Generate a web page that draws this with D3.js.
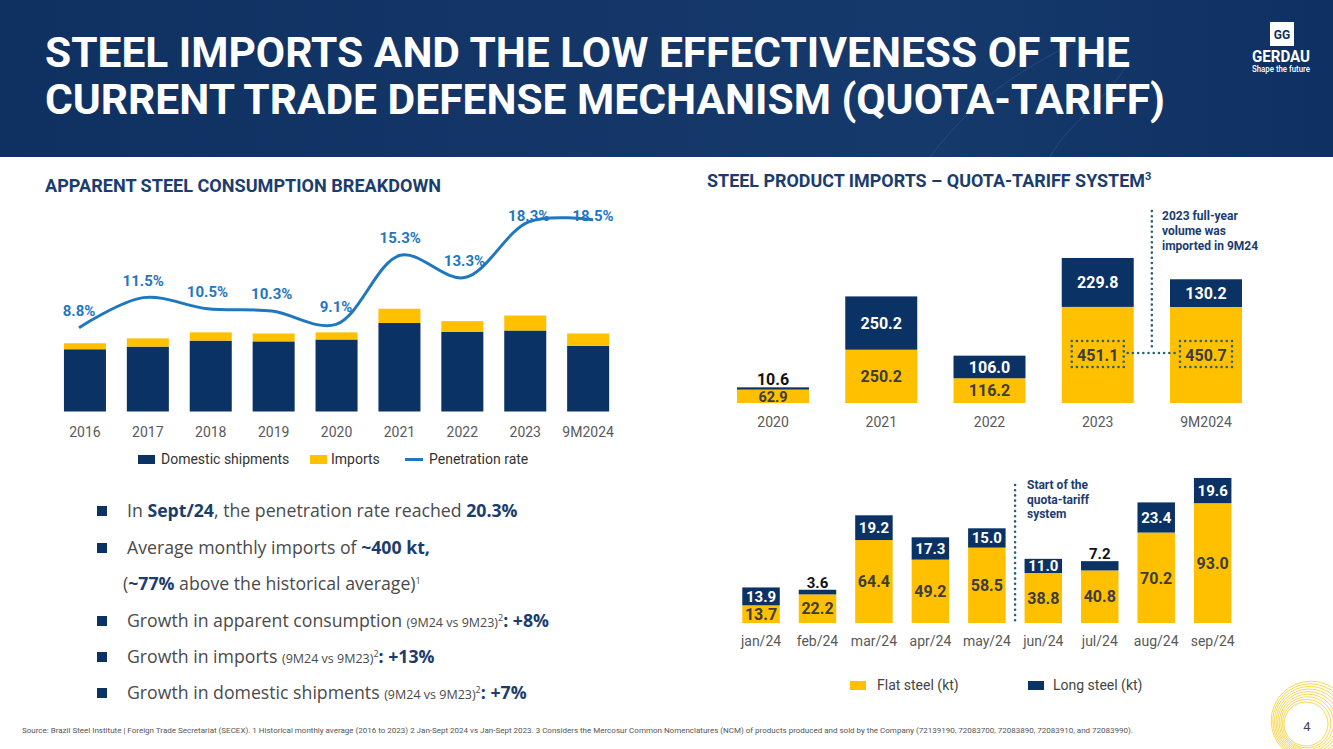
<!DOCTYPE html>
<html><head><meta charset="utf-8">
<script src="https://cdn.jsdelivr.net/npm/d3@7"></script>
<style>
html,body{margin:0;padding:0;background:#fff;}
svg{display:block;font-family:Roboto, "Noto Sans", sans-serif;}
</style></head>
<body>
<svg id="c" width="1333" height="749"></svg>
<script>
// ---------- DATA ----------
const consYears = ["2016","2017","2018","2019","2020","2021","2022","2023","9M2024"];
const domestic = [16.6,17.3,18.9,18.7,19.2,23.6,21.2,21.6,17.5];   // Mt (estimated)
const imports  = [1.6,2.2,2.2,2.1,1.9,3.8,2.9,4.0,3.3];            // Mt (estimated)
const penetration = [8.8,11.5,10.5,10.3,9.1,15.3,13.3,18.3,18.5];  // %

const importYears = ["2020","2021","2022","2023","9M2024"];
const flatAnnual = [62.9,250.2,116.2,451.1,450.7];
const longAnnual = [10.6,250.2,106.0,229.8,130.2];

const months = ["jan/24","feb/24","mar/24","apr/24","may/24","jun/24","jul/24","aug/24","sep/24"];
const flatMonthly = [13.7,22.2,64.4,49.2,58.5,38.8,40.8,70.2,93.0];
const longMonthly = [13.9,3.6,19.2,17.3,15.0,11.0,7.2,23.4,19.6];

// ---------- STYLE ----------
const NAVY = "#0b3264", YELLOW = "#ffc000", BLUE = "#1f77c0", HEAD = "#1b3d6e",
      GRAY = "#595959", DOT = "#2d5f73", TXT = "#4a4a4a";

const svg = d3.select("#c");

// ---------- HEADER ----------
const defs = svg.append("defs");
const g1 = defs.append("linearGradient").attr("id","hg").attr("x1","0").attr("x2","1");
g1.append("stop").attr("offset","0").attr("stop-color","#0f3162");
g1.append("stop").attr("offset","0.7").attr("stop-color","#16396b");
g1.append("stop").attr("offset","1").attr("stop-color","#0e3062");
svg.append("rect").attr("x",0).attr("y",0).attr("width",1333).attr("height",157).attr("fill","url(#hg)");
svg.append("path").attr("d","M930,157 C980,90 1040,60 1080,40 M1050,157 C1070,120 1100,110 1130,60")
  .attr("fill","none").attr("stroke","#3a5d8c").attr("stroke-width",1).attr("opacity",0.5);

svg.append("text").attr("x",45).attr("y",67).attr("fill","#fff").attr("font-size",42).attr("font-weight",700)
  .attr("textLength",1085).attr("lengthAdjust","spacingAndGlyphs")
  .text("STEEL IMPORTS AND THE LOW EFFECTIVENESS OF THE");
svg.append("text").attr("x",45).attr("y",114).attr("fill","#fff").attr("font-size",42).attr("font-weight",700)
  .attr("textLength",1120).attr("lengthAdjust","spacingAndGlyphs")
  .text("CURRENT TRADE DEFENSE MECHANISM (QUOTA-TARIFF)");

// logo
svg.append("rect").attr("x",1270).attr("y",22).attr("width",24).attr("height",24).attr("fill","#fff");
svg.append("text").attr("x",1282).attr("y",39).attr("text-anchor","middle").attr("fill",NAVY)
  .attr("font-size",12).attr("font-weight",700).text("GG");
svg.append("text").attr("x",1281).attr("y",62).attr("text-anchor","middle").attr("fill","#fff")
  .attr("font-size",16).attr("font-weight",700).attr("textLength",58).attr("lengthAdjust","spacingAndGlyphs").text("GERDAU");
svg.append("text").attr("x",1281).attr("y",72).attr("text-anchor","middle").attr("fill","#fff")
  .attr("font-size",8.5).attr("font-weight",500).attr("textLength",58).attr("lengthAdjust","spacingAndGlyphs").text("Shape the future");

// ---------- LEFT CHART ----------
svg.append("text").attr("x",45).attr("y",192).attr("fill",HEAD).attr("font-size",18).attr("font-weight",700)
  .attr("textLength",396).attr("lengthAdjust","spacingAndGlyphs").text("APPARENT STEEL CONSUMPTION BREAKDOWN");

const xL = d3.scaleBand().domain(consYears).range([53.5,619.6]).paddingInner(0.332).paddingOuter(0.166);
const yL = d3.scaleLinear().domain([0,60]).range([411.5,186.5]);
const gL = svg.append("g");
gL.selectAll(".dom").data(consYears).join("rect")
  .attr("x",d=>xL(d)).attr("width",xL.bandwidth())
  .attr("y",(d,i)=>yL(domestic[i])).attr("height",(d,i)=>yL(0)-yL(domestic[i])).attr("fill",NAVY);
gL.selectAll(".imp").data(consYears).join("rect")
  .attr("x",d=>xL(d)).attr("width",xL.bandwidth())
  .attr("y",(d,i)=>yL(domestic[i]+imports[i])).attr("height",(d,i)=>yL(domestic[i])-yL(domestic[i]+imports[i])).attr("fill",YELLOW);

const axL = svg.append("g").attr("transform","translate(0,424)")
  .call(d3.axisBottom(xL).tickSize(0).tickPadding(0));
axL.select(".domain").remove();
axL.selectAll("text").attr("font-size",14).attr("fill",GRAY).attr("font-family","Roboto").attr("dy","0.9em");

const xP = d3.scalePoint().domain(consYears).range([79,593]);
const yP = d3.scaleLinear().domain([5,20]).range([370,203]);
const line = d3.line().x((d,i)=>xP(consYears[i])).y(d=>yP(d)).curve(d3.curveCatmullRom.alpha(0.5));
svg.append("path").attr("d",line(penetration)).attr("fill","none").attr("stroke",BLUE).attr("stroke-width",3);
svg.selectAll(".pl").data(penetration).join("text")
  .attr("x",(d,i)=>xP(consYears[i])).attr("y",d=>Math.max(yP(d)-12, 221))
  .attr("text-anchor","middle").attr("font-size",15).attr("font-weight",700).attr("fill",BLUE)
  .text(d=>d3.format(".1f")(d)+"%");

// legend left
const lgL = svg.append("g");
lgL.append("rect").attr("x",138).attr("y",455).attr("width",17).attr("height",9).attr("fill",NAVY);
lgL.append("text").attr("x",161).attr("y",464).attr("font-size",14).attr("fill","#333").text("Domestic shipments");
lgL.append("rect").attr("x",310).attr("y",455).attr("width",17).attr("height",9).attr("fill",YELLOW);
lgL.append("text").attr("x",331).attr("y",464).attr("font-size",14).attr("fill","#333").text("Imports");
lgL.append("line").attr("x1",405).attr("x2",423).attr("y1",459.5).attr("y2",459.5).attr("stroke",BLUE).attr("stroke-width",3);
lgL.append("text").attr("x",429).attr("y",464).attr("font-size",14).attr("fill","#333").text("Penetration rate");

// ---------- BULLETS ----------
const bullets = [
  {y:517, sq:true, parts:[["In ",0],["Sept/24",1],[", the penetration rate reached ",0],["20.3%",1]]},
  {y:554, sq:true, parts:[["Average monthly imports of ",0],["~400 kt",1],[",",1]]},
  {y:590, sq:false, x:123, parts:[["(",0],["~77%",1],[" above the historical average)",0],["1",3]]},
  {y:627, sq:true, parts:[["Growth in apparent consumption ",0],["(9M24 vs 9M23)",2],["2",3],[": +8%",1]]},
  {y:663, sq:true, parts:[["Growth in imports ",0],["(9M24 vs 9M23)",2],["2",3],[": +13%",1]]},
  {y:699, sq:true, parts:[["Growth in domestic shipments ",0],["(9M24 vs 9M23)",2],["2",3],[": +7%",1]]}
];
bullets.forEach(b=>{
  if(b.sq) svg.append("rect").attr("x",97).attr("y",b.y-11).attr("width",10).attr("height",10).attr("fill",NAVY);
  const t = svg.append("text").attr("x",b.x||127).attr("y",b.y).attr("font-size",17.7).attr("fill",TXT)
    .attr("font-family","'Open Sans', Roboto, sans-serif");
  b.parts.forEach(p=>{
    const s = t.append("tspan").text(p[0]);
    if(p[1]===1) s.attr("font-weight",700).attr("fill",HEAD);
    if(p[1]===2) s.attr("font-size",12.5);
    if(p[1]===3) s.attr("font-size",9).attr("baseline-shift","super");
  });
});

// ---------- RIGHT TOP CHART ----------
const rtTitle = svg.append("text").attr("x",707).attr("y",187).attr("fill",HEAD).attr("font-size",18).attr("font-weight",700);
rtTitle.append("tspan").attr("textLength",438).attr("lengthAdjust","spacingAndGlyphs").text("STEEL PRODUCT IMPORTS \u2013 QUOTA-TARIFF SYSTEM");
rtTitle.append("tspan").attr("font-size",11).attr("dy",-7).text("3");

const xA = d3.scaleBand().domain(importYears).range([718.9,1260.1]).paddingInner(0.335).paddingOuter(0.1675);
const yA = d3.scaleLinear().domain([0,1000]).range([403,190]);
const gA = svg.append("g");
gA.selectAll(".fa").data(importYears).join("rect")
  .attr("x",d=>xA(d)).attr("width",xA.bandwidth())
  .attr("y",(d,i)=>yA(flatAnnual[i])).attr("height",(d,i)=>yA(0)-yA(flatAnnual[i])).attr("fill",YELLOW);
gA.selectAll(".la").data(importYears).join("rect")
  .attr("x",d=>xA(d)).attr("width",xA.bandwidth())
  .attr("y",(d,i)=>yA(flatAnnual[i]+longAnnual[i])).attr("height",(d,i)=>yA(flatAnnual[i])-yA(flatAnnual[i]+longAnnual[i])).attr("fill",NAVY);

function segLabels(g, cats, x, y, lower, upper, fsL, fsU){
  cats.forEach((c,i)=>{
    const cx = x(c)+x.bandwidth()/2;
    const f0=y(0), f1=y(lower[i]), u1=y(lower[i]+upper[i]);
    const hl = f0-f1;
    const small = hl < 16;
    g.append("text").attr("x",cx).attr("y",small ? f0-1 : (f0+f1)/2).attr("dy",small ? 0 : "0.36em").attr("text-anchor","middle")
      .attr("font-size",small ? fsL-1.5 : fsL).attr("font-weight",700).attr("fill","#3d3d3d").text(d3.format(".1f")(lower[i]));
    const h = f1-u1;
    if(h>=12){
      g.append("text").attr("x",cx).attr("y",(f1+u1)/2).attr("dy","0.36em").attr("text-anchor","middle")
        .attr("font-size",fsU).attr("font-weight",700).attr("fill","#fff").text(d3.format(".1f")(upper[i]));
    } else {
      g.append("text").attr("x",cx).attr("y",u1-2).attr("text-anchor","middle")
        .attr("font-size",fsU).attr("font-weight",700).attr("fill","#111").text(d3.format(".1f")(upper[i]));
    }
  });
}
segLabels(gA, importYears, xA, yA, flatAnnual, longAnnual, 16, 16);

const axA = svg.append("g").attr("transform","translate(0,414)")
  .call(d3.axisBottom(xA).tickSize(0).tickPadding(0));
axA.select(".domain").remove();
axA.selectAll("text").attr("font-size",14).attr("fill",GRAY).attr("font-family","Roboto").attr("dy","0.9em");

// dotted annotation boxes
const dotted = (sel)=>sel.attr("fill","none").attr("stroke",DOT).attr("stroke-width",2.6)
  .attr("stroke-linecap","round").attr("stroke-dasharray","0 5.2");
const boxY = (yA(0)+yA(flatAnnual[3]))/2;
[3,4].forEach(i=>{
  const cx = xA(importYears[i])+xA.bandwidth()/2;
  dotted(svg.append("rect").attr("x",cx-26).attr("y",boxY-14).attr("width",52).attr("height",26));
});
const c3 = xA(importYears[3])+xA.bandwidth()/2+26, c4 = xA(importYears[4])+xA.bandwidth()/2-26;
dotted(svg.append("line").attr("x1",c3+4).attr("x2",c4-4).attr("y1",boxY-2).attr("y2",boxY-2));
dotted(svg.append("line").attr("x1",(c3+c4)/2).attr("x2",(c3+c4)/2).attr("y1",211).attr("y2",boxY-4));
const ann1 = svg.append("text").attr("x",1162).attr("font-size",12).attr("font-weight",700).attr("fill",HEAD);
["2023 full-year","volume was","imported in 9M24"].forEach((s,i)=>
  ann1.append("tspan").attr("x",1162).attr("y",220+i*15).text(s));

// ---------- RIGHT BOTTOM CHART ----------
const xM = d3.scaleBand().domain(months).range([732.8,1240.9]).paddingInner(0.336).paddingOuter(0.168);
const yM = d3.scaleLinear().domain([0,120]).range([623,468.4]);
const gM = svg.append("g");
gM.selectAll(".fm").data(months).join("rect")
  .attr("x",d=>xM(d)).attr("width",xM.bandwidth())
  .attr("y",(d,i)=>yM(flatMonthly[i])).attr("height",(d,i)=>yM(0)-yM(flatMonthly[i])).attr("fill",YELLOW);
gM.selectAll(".lm").data(months).join("rect")
  .attr("x",d=>xM(d)).attr("width",xM.bandwidth())
  .attr("y",(d,i)=>yM(flatMonthly[i]+longMonthly[i])).attr("height",(d,i)=>yM(flatMonthly[i])-yM(flatMonthly[i]+longMonthly[i])).attr("fill",NAVY);
segLabels(gM, months, xM, yM, flatMonthly, longMonthly, 16, 15);

const axM = svg.append("g").attr("transform","translate(0,633)")
  .call(d3.axisBottom(xM).tickSize(0).tickPadding(0));
axM.select(".domain").remove();
axM.selectAll("text").attr("font-size",14).attr("fill",GRAY).attr("font-family","Roboto").attr("dy","0.9em");

const sx = (xM(months[4])+xM.bandwidth()+xM(months[5]))/2;
dotted(svg.append("line").attr("x1",sx).attr("x2",sx).attr("y1",485).attr("y2",621));
const ann2 = svg.append("text").attr("font-size",12).attr("font-weight",700).attr("fill",HEAD);
["Start of the","quota-tariff","system"].forEach((s,i)=>
  ann2.append("tspan").attr("x",1027).attr("y",489+i*14.5).text(s));

// legend bottom right
svg.append("rect").attr("x",850).attr("y",681).attr("width",16).attr("height",9).attr("fill",YELLOW);
svg.append("text").attr("x",877).attr("y",690).attr("font-size",14).attr("fill","#444").text("Flat steel (kt)");
svg.append("rect").attr("x",1028).attr("y",681).attr("width",16).attr("height",9).attr("fill",NAVY);
svg.append("text").attr("x",1053).attr("y",690).attr("font-size",14).attr("fill","#444").text("Long steel (kt)");

// ---------- FOOTER ----------
svg.append("text").attr("x",22).attr("y",733).attr("font-size",7.5).attr("fill","#555")
  .attr("textLength",1111).attr("lengthAdjust","spacingAndGlyphs")
  .text("Source: Brazil Steel Institute | Foreign Trade Secretariat (SECEX). 1 Historical monthly average (2016 to 2023) 2 Jan-Sept 2024 vs Jan-Sept 2023. 3 Considers the Mercosur Common Nomenclatures (NCM) of products produced and sold by the Company (72139190, 72083700, 72083890, 72083910, and 72083990).");

const arcs = svg.append("g");
d3.range(9).forEach(k=>{
  arcs.append("circle").attr("cx",1306+k*0.6).attr("cy",724-k*0.4).attr("r",22+k*2.2)
    .attr("fill","none").attr("stroke","#f5c400").attr("stroke-width",0.8).attr("opacity",0.85);
});
svg.append("text").attr("x",1307).attr("y",731).attr("text-anchor","middle").attr("font-size",13).attr("fill","#444").text("4");
</script>
</body></html>
